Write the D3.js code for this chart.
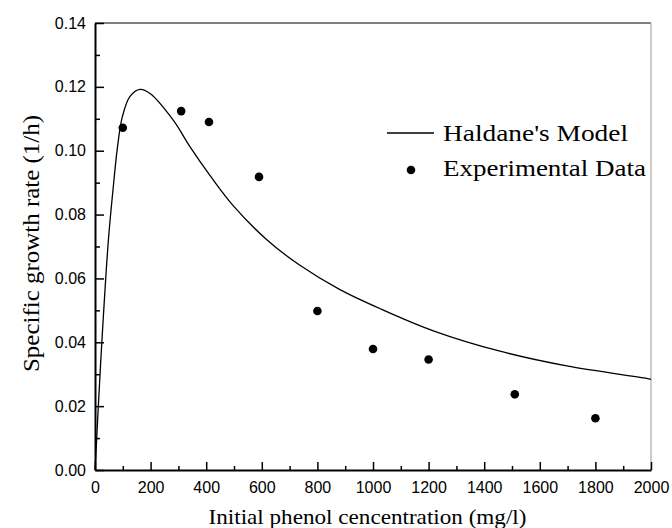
<!DOCTYPE html>
<html>
<head>
<meta charset="utf-8">
<script src="https://cdn.jsdelivr.net/npm/d3@7/dist/d3.min.js"></script>
<style>
  body { margin: 0; background: #fff; }
  .tick text { font-family: "Liberation Sans", Arial, sans-serif; font-size: 16px; fill: #000; }
  .serif { font-family: "Liberation Serif", "Times New Roman", serif; fill: #000; }
</style>
</head>
<body>
<div class="container"></div>
<script>
// experimental points
let concentration = [100, 310, 410, 590, 800, 1000, 1200, 1510, 1800];
let growthRate    = [0.1072, 0.1124, 0.1090, 0.0918, 0.0498, 0.0379, 0.0346, 0.0237, 0.0162];

// Haldane's model curve
let modelX = [0, 5, 12, 20, 30, 40, 50, 65, 80, 98, 126, 162, 198, 282, 342, 414, 497, 617, 737, 881, 1037, 1217, 1457, 1697, 1984, 2000];
let modelY = [0, 0.008, 0.020, 0.033, 0.048, 0.062, 0.074, 0.088, 0.1005, 0.1105, 0.1170, 0.1192, 0.1179, 0.1095, 0.1012, 0.0922, 0.0828, 0.0722, 0.0641, 0.0565, 0.0501, 0.0436, 0.0372, 0.0326, 0.0287, 0.0284];

let xMajor = [0, 200, 400, 600, 800, 1000, 1200, 1400, 1600, 1800, 2000];
let xMinor = [100, 300, 500, 700, 900, 1100, 1300, 1500, 1700, 1900];
let yMajor = [0, 0.02, 0.04, 0.06, 0.08, 0.10, 0.12, 0.14];
let yMinor = [0.01, 0.03, 0.05, 0.07, 0.09, 0.11, 0.13];

let legendLabels = ["Haldane's Model", "Experimental Data"];

let width = 672,
    height = 528,
    margin = { top: 23, right: 21, bottom: 58, left: 95 },
    plotW = width - margin.left - margin.right,
    plotH = height - margin.top - margin.bottom;

let svg = d3.select('.container')
            .append('svg')
            .attr('width', width)
            .attr('height', height);

let g = svg.append('g')
           .attr('transform', `translate(${margin.left}, ${margin.top})`);

let xScale = d3.scaleLinear().domain([0, 2000]).range([0, plotW]);
let yScale = d3.scaleLinear().domain([0, 0.14]).range([plotH, 0]);

// frame: top and right
g.append('line')
  .attr('x1', 0).attr('x2', plotW)
  .attr('y1', 0).attr('y2', 0)
  .style('stroke', '#000').style('stroke-width', 1);
g.append('line')
  .attr('x1', plotW).attr('x2', plotW)
  .attr('y1', 0).attr('y2', plotH)
  .style('stroke', '#aaa').style('stroke-width', 1.2);

// axes, ticks pointing inward
let xAxis = d3.axisBottom(xScale)
              .tickValues(xMajor)
              .tickSizeInner(-8)
              .tickSizeOuter(0)
              .tickPadding(12)
              .tickFormat(d3.format('d'));
let xMinorAxis = d3.axisBottom(xScale)
                   .tickValues(xMinor)
                   .tickSize(-4)
                   .tickFormat('');

let yAxis = d3.axisLeft(yScale)
              .tickValues(yMajor)
              .tickSizeInner(-9)
              .tickSizeOuter(0)
              .tickPadding(9)
              .tickFormat(d3.format('.2f'));
let yMinorAxis = d3.axisLeft(yScale)
                   .tickValues(yMinor)
                   .tickSize(-5)
                   .tickFormat('');

g.append('g').attr('transform', `translate(0, ${plotH})`).call(xMinorAxis)
  .call(a => a.select('.domain').remove());
g.append('g').call(yMinorAxis)
  .call(a => a.select('.domain').remove());

let xG = g.append('g').attr('transform', `translate(0, ${plotH})`).call(xAxis);
let yG = g.append('g').call(yAxis);

[xG, yG].forEach(a => {
  a.select('.domain').style('stroke', '#000').style('stroke-width', 2);
  a.selectAll('.tick text').attr('font-size', null).attr('font-family', null)
   .style('fill', '#000');
});
g.selectAll('.tick line').style('stroke', '#000').style('stroke-width', 1.5);

// model curve
let line = d3.line()
             .x(d => xScale(d[0]))
             .y(d => yScale(d[1]))
             .curve(d3.curveCatmullRom.alpha(0.5));

g.append('path')
  .datum(d3.zip(modelX, modelY))
  .attr('d', line)
  .style('fill', 'none')
  .style('stroke', '#000')
  .style('stroke-width', 1.3);

// experimental data
g.selectAll('circle.pt')
  .data(d3.zip(concentration, growthRate))
  .enter()
  .append('circle')
  .classed('pt', true)
  .attr('cx', d => xScale(d[0]))
  .attr('cy', d => yScale(d[1]))
  .attr('r', 4.3)
  .style('fill', '#000');

// legend
let legend = svg.append('g').attr('transform', 'translate(387, 133)');
legend.append('line')
  .attr('x1', 0).attr('x2', 47)
  .attr('y1', 0).attr('y2', 0)
  .style('stroke', '#000').style('stroke-width', 1.3);
legend.append('circle')
  .attr('cx', 24).attr('cy', 37).attr('r', 4.3)
  .style('fill', '#000');
legend.selectAll('text')
  .data(legendLabels)
  .enter()
  .append('text')
  .classed('serif', true)
  .attr('x', 56)
  .attr('y', (d, i) => 8 + i * 35)
  .attr('textLength', (d, i) => i ? 203 : 185)
  .attr('lengthAdjust', 'spacingAndGlyphs')
  .style('font-size', '23px')
  .style('fill', '#000')
  .text(d => d);

// axis titles
svg.append('text')
  .classed('serif', true)
  .attr('x', 367.5)
  .attr('y', 524)
  .attr('text-anchor', 'middle')
  .attr('textLength', 318)
  .attr('lengthAdjust', 'spacingAndGlyphs')
  .style('font-size', '22px')
  .style('fill', '#000')
  .text('Initial phenol cencentration (mg/l)');

svg.append('text')
  .classed('serif', true)
  .attr('transform', 'translate(39, 243.5) rotate(-90)')
  .attr('text-anchor', 'middle')
  .attr('textLength', 257)
  .attr('lengthAdjust', 'spacingAndGlyphs')
  .style('font-size', '23px')
  .style('fill', '#000')
  .text('Specific growth rate (1/h)');
</script>
</body>
</html>
